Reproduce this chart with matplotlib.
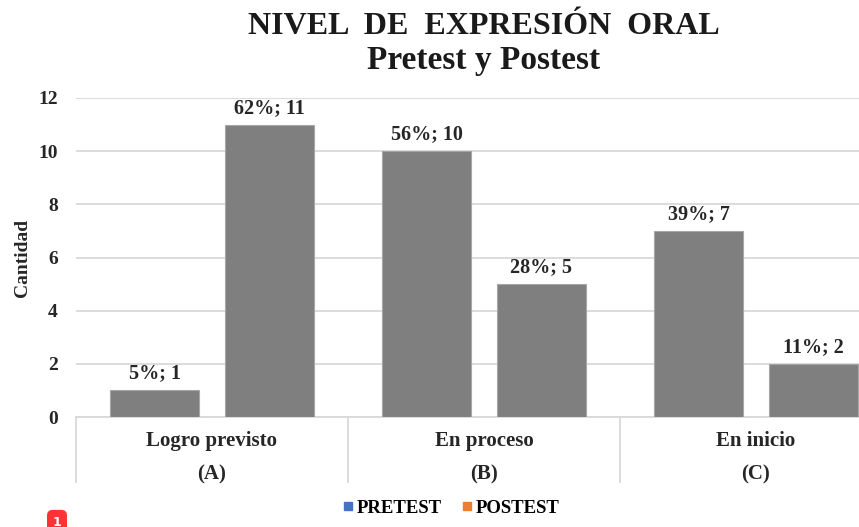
import matplotlib.pyplot as plt
import numpy as np

# --- Data ---
categories = ["Logro previsto", "En proceso", "En inicio"]
letters = ["(A)", "(B)", "(C)"]
pretest = [1, 10, 7]
postest = [11, 5, 2]
pretest_pct = ["5%", "56%", "39%"]
postest_pct = ["62%", "28%", "11%"]
y_ticks = [0, 2, 4, 6, 8, 10, 12]

plt.rcParams['font.family'] = ['Liberation Serif', 'DejaVu Serif']
plt.rcParams['font.weight'] = 'bold'

fig = plt.figure(figsize=(8.59, 5.27), dpi=100)
ax = fig.add_axes([76 / 859, 1 - 417 / 527, 783 / 859, 319 / 527])

x = np.arange(len(categories))
off = 0.21
w = 0.327
bar_color = "#7f7f7f"
edge = "#a6a6a6"

b1 = ax.bar(x - off, pretest, w, color=bar_color, edgecolor=edge, linewidth=0.8, zorder=3)
b2 = ax.bar(x + off, postest, w, color=bar_color, edgecolor=edge, linewidth=0.8, zorder=3)

for bars, vals, pcts in [(b1, pretest, pretest_pct), (b2, postest, postest_pct)]:
    for rect, v, p in zip(bars, vals, pcts):
        ax.annotate(f"{p}; {v}", (rect.get_x() + rect.get_width() / 2, v),
                    xytext=(0, 5), textcoords="offset points",
                    ha="center", va="bottom", fontsize=14.5, fontweight="bold",
                    color="#262626")

ax.set_xlim(-0.5, -0.5 + 783 / 272)
ax.set_ylim(0, 12)
ax.set_yticks(y_ticks)
ax.tick_params(axis="y", length=0, labelsize=14, pad=13, labelcolor="#262626")
ax.set_xticks([])
ax.grid(axis="y", color="#d9d9d9", linewidth=1.3, zorder=0)
for s in ["top", "right", "left"]:
    ax.spines[s].set_visible(False)
ax.spines["bottom"].set_color("#d9d9d9")
ax.spines["bottom"].set_linewidth(1.3)

ax.set_ylabel("Cantidad", fontsize=14, fontweight="bold", labelpad=5, color="#262626")

# category labels and separators
trans = ax.get_xaxis_transform()
for i, (c, l) in enumerate(zip(categories, letters)):
    ax.text(i, -0.075, c, transform=trans, ha="center", va="center",
            fontsize=15, fontweight="bold", color="#262626")
    ax.text(i, -0.18, l, transform=trans, ha="center", va="center",
            fontsize=15, fontweight="bold", color="#262626")
for xs in np.arange(len(categories) + 1) - 0.5:
    ax.plot([xs, xs], [0, -0.204], transform=trans, color="#d9d9d9",
            linewidth=1.3, clip_on=False)

# title
fig.text(484 / 859, 1 - 27 / 527, "NIVEL  DE  EXPRESIÓN  ORAL", ha="center", va="center",
         fontsize=23, fontweight="bold", color="#1a1a1a")
fig.text(484 / 859, 1 - 61 / 527, "Pretest y Postest", ha="center", va="center",
         fontsize=24, fontweight="bold", color="#1a1a1a")

# legend
h1 = plt.Line2D([], [], marker="s", linestyle="", color="#4472c4", markersize=6)
h2 = plt.Line2D([], [], marker="s", linestyle="", color="#ed7d31", markersize=6)
fig.legend([h1, h2], ["PRETEST", "POSTEST"], loc="center", ncol=2,
           bbox_to_anchor=(450 / 859, 1 - 508 / 527), frameon=False,
           fontsize=13.5, handletextpad=0.1, columnspacing=0.9, handlelength=0.8)

# badge
fig.text(57 / 859, 1 - 522 / 527, "1", ha="center", va="center", color="white",
         fontsize=9, fontweight="bold", family="DejaVu Sans",
         bbox=dict(boxstyle="round,pad=0.45", fc="#ff3333", ec="none"))

fig.savefig("out.png", dpi=100)
